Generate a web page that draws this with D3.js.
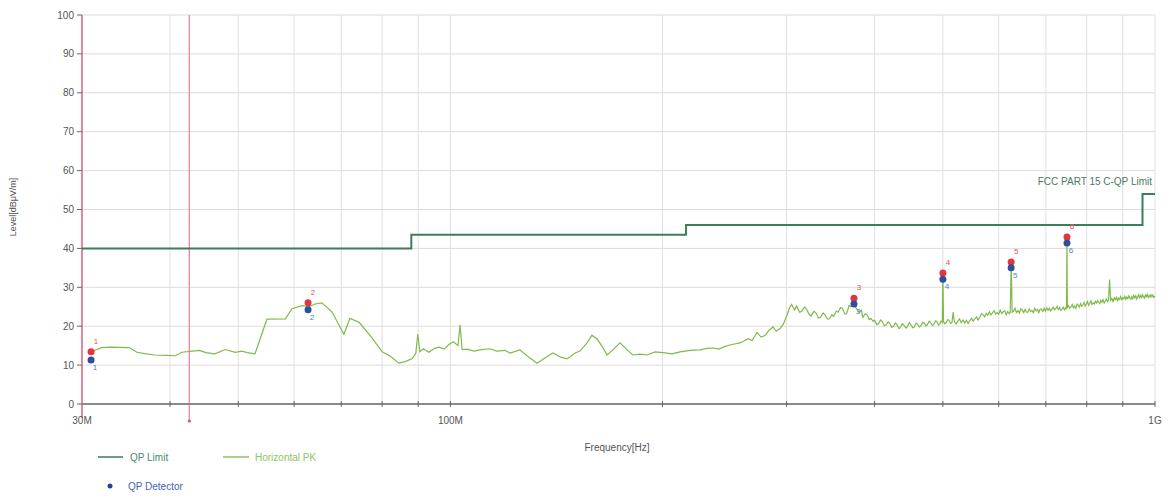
<!DOCTYPE html>
<html><head><meta charset="utf-8">
<script src="https://cdn.jsdelivr.net/npm/d3@7"></script>
<style>body{margin:0;background:#fff;} svg{display:block;font-family:"Liberation Sans",Arial,sans-serif;}</style>
</head><body><svg id="c" width="1169" height="496"></svg>
<script>
// ---- data ----
const yTicks = [0,10,20,30,40,50,60,70,80,90,100];
const xGridMHz = [40,50,60,70,80,90,100,200,300,400,500,600,700,800,900,1000];
const xTickLabels = [{f:30,t:"30M"},{f:100,t:"100M"},{f:1000,t:"1G"}];

const limitFreq  = [30, 88, 216, 960, 1000];
const limitLevel = [40, 43.5, 46, 54, 54];

const pkFreq = [
 30.9,31.5,32.0,33.0,35.0,35.9,37.0,38.1,39.5,40.7,41.6,43.0,44.0,45.0,46.3,47.9,49.5,50.6,51.5,52.8,
 54.9,58.3,59.6,61.6,63.0,64.3,65.7,67.9,70.6,72.0,74.2,77.4,80.0,82.0,84.5,86.2,88.2,89.3,89.9,90.5,
 91.5,93.2,95.0,96.3,98.0,99.5,101.0,102.5,103.2,103.9,105.6,108.0,110.1,113.8,116.4,119.5,121.5,125.5,129.7,132.7,
 136.2,139.8,143.1,146.4,150.3,152.7,156.3,158.8,161.5,164.1,166.8,170.1,174.1,178.1,181.6,185.8,190.1,195.2,200.3,206.3,
 211.8,218.8,226.1,231.0,235.9,240.5,245.3,251.0,257.7,261.0,264.5,268.0,272.4,276.0,279.6,283.0,287.0,290.0,293.6,297.0,
 300.4,303,305,308,310,313,315,318,320,323,325,328,330,333,335,338,340,343,345,348,
 350,353,355,358,360,363,365,368,370,372,374,376,378,380,383,385,388,390,393,395,
 398,400,403,405,408,410,413,415,418,420,423,425,428,430,433,435,438,440,443,445,
 448,450,453,455,458,460,463,465,468,470,473,475,478,480,483,485,488,490,493,495,
 497,499,500,501,503,505,508,510,513,515,517,519,522,525,528,531,534,537,540,543,
 546,549,552,555,558,561,564,567,570,573,576,579,582,585,588,591,594,597,600,603,
 606,609,612,615,618,621,623,625,627,630,633,636,639,642,645,648,651,654,657,660,
 663,666,669,672,675,678,681,684,687,690,693,696,699,702,705,708,711,714,717,720,
 723,726,729,732,735,738,741,744,747,749,750,751,754,757,760,763,766,769,772,775,
 778,781,784,787,790,793,796,799,802,805,808,811,814,817,820,823,826,829,832,835,
 838,841,844,847,850,853,856,859,862,865,868,871,872,873,876,879,882,885,888,891,
 894,897,900,903,906,909,912,915,918,921,924,927,930,933,936,939,942,945,948,951,
 954,957,960,963,966,969,972,975,978,981,984,987,990,993,996,1000
];
const pkLevel = [
 13.4,14.0,14.5,14.6,14.5,13.3,12.9,12.6,12.5,12.4,13.3,13.6,13.8,13.2,12.9,14.0,13.3,13.6,13.2,12.9,
 21.8,21.9,24.5,25.3,25.0,25.7,26.0,23.7,17.9,22.0,21.0,17.0,13.4,12.4,10.5,10.9,11.6,13.0,18.0,13.4,
 14.2,13.3,14.3,14.6,14.1,15.3,16.0,15.0,20.3,14.0,14.1,13.6,13.9,14.2,13.6,13.8,13.1,13.9,11.8,10.5,
 11.8,13.1,12.1,11.6,13.1,13.6,15.7,17.7,16.7,14.9,12.6,13.9,15.7,13.9,12.6,12.8,12.6,13.4,13.2,12.9,
 13.4,13.8,13.9,14.3,14.4,14.1,14.8,15.3,15.7,16.2,16.8,16.3,18.4,17.2,17.6,18.9,19.8,18.7,19.4,20.6,
 22.9,24.8,25.6,24.2,25.2,23.6,23.8,24.9,24.5,23.0,22.6,23.8,23.5,22.1,22.3,23.4,22.9,21.8,21.9,23.0,
 22.5,23.9,23.6,24.8,24.6,23.1,23.2,25.3,25.0,25.6,26.6,24.8,24.3,23.5,24.1,22.3,23.2,23.0,21.7,22.0,
 21.3,21.5,20.4,20.6,21.6,21.2,20.1,20.3,21.1,20.8,19.7,19.9,20.8,20.5,19.4,19.6,20.7,20.3,19.5,19.8,
 20.9,20.5,19.6,19.7,20.8,20.6,19.8,20.0,21.0,20.9,20.1,20.3,21.3,21.0,20.2,20.4,21.4,21.2,20.3,20.6,
 21.3,21.0,33.4,21.2,20.6,20.8,21.7,21.5,20.7,20.9,23.6,21.2,20.6,21.3,21.9,20.9,21.6,20.8,21.5,20.7,
 21.4,22.0,21.3,21.9,22.4,21.6,22.3,23.2,23.0,22.4,23.3,22.8,23.7,22.9,23.4,24.0,23.1,23.5,23.1,24.1,
 23.3,23.7,24.0,22.9,23.8,23.2,23.5,36.2,23.6,23.9,24.6,23.5,24.0,23.4,24.5,24.2,23.5,24.3,23.6,23.6,
 24.4,23.8,24.0,23.5,24.6,23.9,24.3,23.5,24.4,24.4,23.8,24.6,23.9,24.7,24.1,24.6,23.9,24.4,24.9,24.2,
 24.6,25.1,24.3,24.8,24.1,24.4,24.9,24.2,24.8,24.5,42.6,24.7,25.3,24.6,25.0,25.6,24.7,25.2,24.6,25.7,
 25.4,24.9,25.8,25.1,25.5,26.1,25.2,25.7,26.3,25.4,25.9,26.5,25.6,26.0,25.7,26.4,25.9,26.6,26.1,25.8,
 26.7,26.2,26.8,26.0,26.4,27.0,26.3,26.6,32.0,26.7,27.1,26.5,27.0,26.6,27.3,26.8,27.4,26.6,27.2,26.9,
 27.6,26.8,27.3,27.0,27.7,26.9,27.5,27.1,27.8,27.2,26.9,27.6,27.1,27.9,27.3,27.8,27.0,27.6,28.1,27.3,
 27.9,27.4,28.1,27.5,27.2,28.0,27.6,28.2,27.4,27.9,27.5,28.1,27.6,28.0,27.4,27.8
];

const mkNum   = ["1","2","3","4","5","6"];
const mkFreq  = [30.9, 62.8, 373.9, 500.0, 624.9, 750.0];
const mkPK    = [13.4, 26.0, 27.2, 33.7, 36.5, 42.9];
const mkQP    = [11.3, 24.2, 25.7, 32.1, 35.0, 41.4];

const redLinesMHz = [30, 42.6];

// ---- drawing ----
const svg = d3.select("#c");
const x = d3.scaleLog().domain([30,1000]).range([82,1155]);
const y = d3.scaleLinear().domain([0,100]).range([404,15]);

// grid
svg.append("g").selectAll("line").data(yTicks.slice(1)).join("line")
  .attr("x1",82).attr("x2",1155).attr("y1",d=>y(d)).attr("y2",d=>y(d))
  .attr("stroke","#dedbdc").attr("stroke-width",1);
svg.append("g").selectAll("line").data(xGridMHz).join("line")
  .attr("x1",d=>x(d)).attr("x2",d=>x(d)).attr("y1",y(100)).attr("y2",y(0))
  .attr("stroke","#e6dde0").attr("stroke-width",1);

// red marker lines
svg.append("g").selectAll("line").data(redLinesMHz).join("line")
  .attr("x1",d=>x(d)).attr("x2",d=>x(d)).attr("y1",y(100)).attr("y2",(d,i)=>i===0?418:420)
  .attr("stroke","#e8869a").attr("stroke-width",(d,i)=>i===0?2:1.3);
svg.append("circle").attr("cx",x(redLinesMHz[1])).attr("cy",421).attr("r",1.6).attr("fill","#d8506a");

// x axis
svg.append("line").attr("x1",82).attr("x2",1155).attr("y1",y(0)).attr("y2",y(0))
  .attr("stroke","#8a8a8a").attr("stroke-width",2);
svg.append("g").selectAll("line").data(xGridMHz).join("line")
  .attr("x1",d=>x(d)).attr("x2",d=>x(d)).attr("y1",y(0)-3).attr("y2",y(0)+3)
  .attr("stroke","#666").attr("stroke-width",1);
svg.append("g").selectAll("text").data(xTickLabels).join("text")
  .attr("x",d=>x(d.f)).attr("y",424).attr("text-anchor","middle")
  .attr("font-size",10).attr("fill","#555").text(d=>d.t);

// y axis ticks + labels
svg.append("g").selectAll("line").data(yTicks).join("line")
  .attr("x1",77).attr("x2",82).attr("y1",d=>y(d)).attr("y2",d=>y(d))
  .attr("stroke","#666").attr("stroke-width",1);
svg.append("g").selectAll("text").data(yTicks).join("text")
  .attr("x",74).attr("y",d=>y(d)+3.5).attr("text-anchor","end")
  .attr("font-size",10).attr("fill","#555").text(d=>d);

svg.append("text").attr("transform","translate(16,207) rotate(-90)").attr("text-anchor","middle")
  .attr("font-size",9).attr("fill","#555").text("Level[dBμV/m]");
svg.append("text").attr("x",617).attr("y",451).attr("text-anchor","middle")
  .attr("font-size",10).attr("fill","#555").text("Frequency[Hz]");

// limit line
const limPts = limitFreq.map((f,i)=>[f,limitLevel[i]]);
svg.append("path").datum(limPts)
  .attr("d",d3.line().x(d=>x(d[0])).y(d=>y(d[1])).curve(d3.curveStepAfter))
  .attr("fill","none").attr("stroke","#3a7f58").attr("stroke-width",2);
svg.append("text").attr("x",1152).attr("y",185).attr("text-anchor","end")
  .attr("font-size",10).attr("fill","#4a7a62").text("FCC PART 15 C-QP Limit");

// PK trace
const pkPts = pkFreq.map((f,i)=>[f,pkLevel[i]]);
svg.append("path").datum(pkPts)
  .attr("d",d3.line().x(d=>x(d[0])).y(d=>y(d[1])))
  .attr("fill","none").attr("stroke","#7fba4c").attr("stroke-width",1.2);

// markers
const mk = mkNum.map((n,i)=>({n,f:mkFreq[i],pk:mkPK[i],qp:mkQP[i]}));
const gm = svg.append("g");
gm.selectAll(".r").data(mk).join("circle").attr("class","r")
  .attr("cx",d=>x(d.f)).attr("cy",d=>y(d.pk)).attr("r",3.5).attr("fill","#e2353d");
gm.selectAll(".b").data(mk).join("circle").attr("class","b")
  .attr("cx",d=>x(d.f)).attr("cy",d=>y(d.qp)).attr("r",3.5).attr("fill","#2d4f9e");
gm.selectAll(".rt").data(mk).join("text").attr("class","rt")
  .attr("x",d=>x(d.f)+5).attr("y",d=>y(d.pk)-8).attr("text-anchor","middle")
  .attr("font-size",8).attr("fill","#e2535a").text(d=>d.n);
gm.selectAll(".bt").data(mk).join("text").attr("class","bt")
  .attr("x",d=>x(d.f)+4).attr("y",d=>y(d.qp)+10).attr("text-anchor","middle")
  .attr("font-size",8).attr("fill","#4a86c8").text(d=>d.n);

// legend
const lg = svg.append("g").attr("font-size",10);
lg.append("line").attr("x1",98).attr("x2",123).attr("y1",457).attr("y2",457).attr("stroke","#3a7f58").attr("stroke-width",1.5);
lg.append("text").attr("x",130).attr("y",460.5).attr("fill","#4a8a70").text("QP Limit");
lg.append("line").attr("x1",223).attr("x2",249).attr("y1",457).attr("y2",457).attr("stroke","#8cc45e").attr("stroke-width",1.5);
lg.append("text").attr("x",255).attr("y",460.5).attr("fill","#8fc262").text("Horizontal PK");
lg.append("circle").attr("cx",110).attr("cy",486).attr("r",2.5).attr("fill","#2d3f8e");
lg.append("text").attr("x",128).attr("y",489.5).attr("fill","#4a5fb0").text("QP Detector");
</script></body></html>
